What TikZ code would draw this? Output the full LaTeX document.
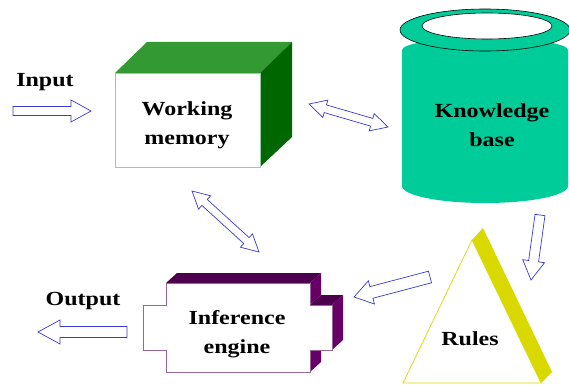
\documentclass[tikz,border=0pt]{standalone}
\usepackage{fontspec}
\setmainfont{Liberation Serif}[FakeStretch=1.2]
\usetikzlibrary{calc}
\definecolor{arrowblue}{HTML}{3A3AD0}
\definecolor{wmtop}{HTML}{339933}
\definecolor{wmside}{HTML}{006600}
\definecolor{wmedge}{HTML}{99CCAA}
\definecolor{kbfill}{HTML}{00CC99}
\definecolor{ietop}{HTML}{4D004D}
\definecolor{ieside}{HTML}{660066}
\definecolor{ieedge}{HTML}{996699}
\definecolor{ryellow}{HTML}{D9D900}
\tikzset{
  lbl/.style={font=\fontsize{20}{29}\selectfont\bfseries, align=center, text=black, inner sep=0pt},
  harrow/.style={draw=arrowblue, fill=white, line width=0.7pt, line join=miter},
}
\newcommand\blockarrow[5]{%
 \draw[harrow] ($(#1)!#3!-90:(#2)$) -- ($(#2)!#5!(#1)!#3!90:(#1)$) -- ($(#2)!#5!(#1)!#4!90:(#1)$) -- (#2) -- ($(#2)!#5!(#1)!#4!-90:(#1)$) -- ($(#2)!#5!(#1)!#3!-90:(#1)$) -- ($(#1)!#3!90:(#2)$) -- cycle;}
\newcommand\dblarrow[5]{%
 \draw[harrow] (#1) -- ($(#1)!#5!(#2)!#4!90:(#2)$) -- ($(#1)!#5!(#2)!#3!90:(#2)$) -- ($(#2)!#5!(#1)!#3!-90:(#1)$) -- ($(#2)!#5!(#1)!#4!-90:(#1)$) -- (#2) -- ($(#2)!#5!(#1)!#4!90:(#1)$) -- ($(#2)!#5!(#1)!#3!90:(#1)$) -- ($(#1)!#5!(#2)!#3!-90:(#2)$) -- ($(#1)!#5!(#2)!#4!-90:(#2)$) -- cycle;}
\begin{document}
\begin{tikzpicture}[x=1pt,y=-1pt]
\useasboundingbox (0,0) rectangle (569,385);
% Working memory box
\fill[wmtop] (115,73) -- (147,42) -- (292,42) -- (260,73) -- cycle;
\fill[wmside] (260,73) -- (292,42) -- (292,137) -- (260,167) -- cycle;
\draw[wmedge, fill=white, line width=0.8pt] (115,73) rectangle (260,167);
\node[lbl] (wm) at (187,125) {Working\\memory};
% Knowledge base cylinder
\fill[kbfill] (402,50) -- (402,186) arc[start angle=180, end angle=0, x radius=83, y radius=17] -- (568,50) arc[start angle=0, end angle=-180, x radius=83, y radius=12] -- cycle;
\draw[black, fill=kbfill, line width=0.6pt] (485,30) ellipse[x radius=85, y radius=21];
\draw[black, fill=white, line width=0.6pt] (487,26) ellipse[x radius=65, y radius=13];
\node[lbl] (kb) at (492,125) {Knowledge\\base};
% Inference engine
\fill[ietop] (166,283) -- (177,273) -- (321,273) -- (310,283) -- cycle;
\fill[ieside] (310,283) -- (321,273) -- (321,295) -- (310,305) -- cycle;
\fill[ietop] (310,305) -- (321,295) -- (343,295) -- (332,305) -- cycle;
\fill[ieside] (332,305) -- (343,295) -- (343,340) -- (332,350) -- cycle;
\fill[ieside] (310,350) -- (321,340) -- (321,362) -- (310,372) -- cycle;
\draw[ieedge, fill=white, line width=0.8pt] (166,283) -- (310,283) -- (310,305) -- (332,305) -- (332,350) -- (310,350) -- (310,372) -- (166,372) -- (166,350) -- (143,350) -- (143,305) -- (166,305) -- cycle;
\node[lbl] (ie) at (237,334) {Inference\\engine};
% Rules triangle
\fill[ryellow] (472,240) -- (483,228) -- (552,372) -- (541,383) -- cycle;
\draw[ryellow, fill=white, line width=0.7pt] (472,240) -- (541,383) -- (403,383) -- cycle;
\node[lbl] (rules) at (470,339) {Rules};
% Labels
\node[lbl] (inlbl) at (45,82) {Input};
\node[lbl] (outlbl) at (83,301) {Output};
% Arrow end points
\coordinate (inA) at (13,111);
\coordinate (inB) at (91,111);
\coordinate (outA) at (127,332);
\coordinate (outB) at (38,332);
\coordinate (wkA) at (309,104);
\coordinate (wkB) at (388,127);
\coordinate (wiA) at (192,191);
\coordinate (wiB) at (259,252);
\coordinate (krA) at (540,215);
\coordinate (krB) at (531,280);
\coordinate (riA) at (430,277);
\coordinate (riB) at (354,297);
\blockarrow{inA}{inB}{4.5pt}{11pt}{20pt}
\blockarrow{outA}{outB}{5.5pt}{12pt}{22pt}
\dblarrow{wkA}{wkB}{4pt}{9pt}{17pt}
\dblarrow{wiA}{wiB}{4pt}{9pt}{17pt}
\blockarrow{krA}{krB}{5pt}{11pt}{19pt}
\blockarrow{riA}{riB}{6pt}{12pt}{18pt}
\end{tikzpicture}
\end{document}
